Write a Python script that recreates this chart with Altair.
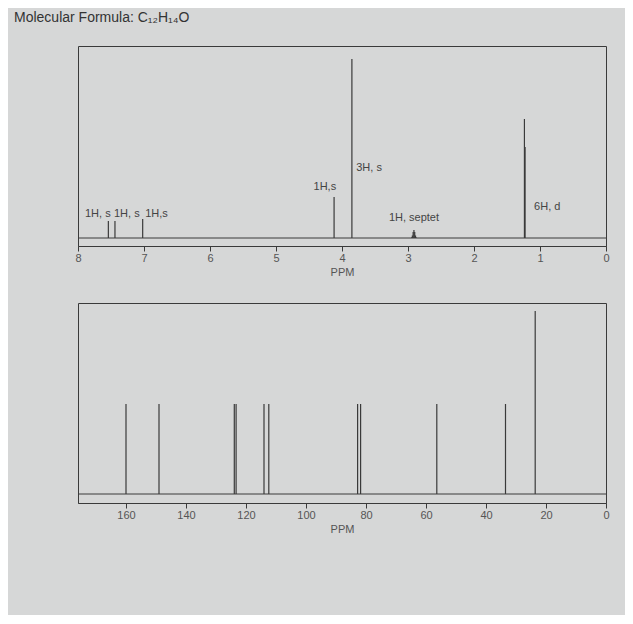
import altair as alt
import pandas as pd

# ---- 1H NMR data ----
h_ppm = [7.54, 7.44, 7.02, 4.12, 3.85,
         2.946, 2.934, 2.922, 2.91, 2.898, 2.886, 2.874,
         1.236, 1.226]
h_height = [17, 17, 19, 41, 179,
            0.6, 2.5, 6, 8, 6, 2.5, 0.6,
            119, 91]

h_label_text = ["1H, s", "1H, s", "1H,s", "1H,s", "3H, s", "1H, septet", "6H, d"]
h_label_ppm = [7.70, 7.26, 6.81, 4.26, 3.59, 2.91, 0.89]
h_label_y = [24, 24, 24, 51, 70, 20, 31]

h_ticks = [x / 2 for x in range(0, 17)]

# ---- 13C NMR data ----
c_ppm = [160.0, 149.0, 123.9, 123.3, 114.0, 112.4, 82.8, 81.8, 56.4, 33.5, 23.6]
c_height = [90, 90, 90, 90, 90, 90, 90, 90, 90, 90, 183]
c_ticks = list(range(0, 171, 10))

title_text = ["Molecular Formula: C₁₂H₁₄O"]

LINE = "#3a3a3a"
LAB = "#555555"
BG = "#d6d7d7"

h_df = pd.DataFrame({"ppm": h_ppm, "h": h_height, "base": [0] * len(h_ppm)})
h_lab = pd.DataFrame({"text": h_label_text, "ppm": h_label_ppm, "y": h_label_y})
c_df = pd.DataFrame({"ppm": c_ppm, "h": c_height, "base": [0] * len(c_ppm)})


def xaxis(values, label_every):
    return alt.Axis(
        values=values,
        labelExpr=f"datum.value % {label_every} == 0 ? format(datum.value, 'd') : ''",
        tickSize=5, tickColor=LINE, domainColor=LINE, grid=False,
        labelColor=LAB, labelFontSize=11, labelFont="Liberation Sans",
        labelPadding=1, title="PPM", titleFontWeight="normal",
        titleFontSize=11, titleColor=LAB, titleFont="Liberation Sans",
        titlePadding=3, labelFlush=False,
    )


def panel(df, xmax, ymin, ymax, ticks, every, labels=None, title=None):
    xs = alt.Scale(domain=[0, xmax], reverse=True, nice=False, zero=False)
    ys = alt.Scale(domain=[ymin, ymax], nice=False, zero=False)
    peaks = alt.Chart(df).mark_rule(color=LINE, strokeWidth=1.2).encode(
        x=alt.X("ppm:Q", scale=xs, axis=xaxis(ticks, every)),
        y=alt.Y("h:Q", scale=ys, axis=None),
        y2="base:Q",
    )
    bdf = pd.DataFrame({"x0": [0], "x1": [xmax], "b": [0]})
    base = alt.Chart(bdf).mark_rule(color=LINE, strokeWidth=1).encode(
        x="x0:Q", x2="x1:Q", y="b:Q"
    )
    layers = [peaks, base]
    if labels is not None:
        txt = alt.Chart(labels).mark_text(
            fontSize=11, font="Liberation Sans", color="#444444", baseline="middle"
        ).encode(x="ppm:Q", y="y:Q", text="text:N")
        layers.append(txt)
    if title is not None:
        tdf = pd.DataFrame({"t": title})
        ttl = alt.Chart(tdf).mark_text(
            fontSize=14, font="Liberation Sans", color="#333333",
            align="left", baseline="middle"
        ).encode(x=alt.value(-64), y=alt.value(-28), text="t:N")
        layers.append(ttl)
    return alt.layer(*layers).properties(width=528, height=200)


top = panel(h_df, 8, -8, 192, h_ticks, 1, h_lab, title_text)
bottom = panel(c_df, 176, -9, 191, c_ticks, 20)

chart = alt.vconcat(top, bottom, spacing=24).properties(
    padding={"left": 5, "top": 2, "right": 15, "bottom": 80},
    background=BG,
).configure_view(stroke=LINE, strokeWidth=1, fill=BG)

chart.save("out.html", embed_options={"renderer": "svg", "actions": False})
